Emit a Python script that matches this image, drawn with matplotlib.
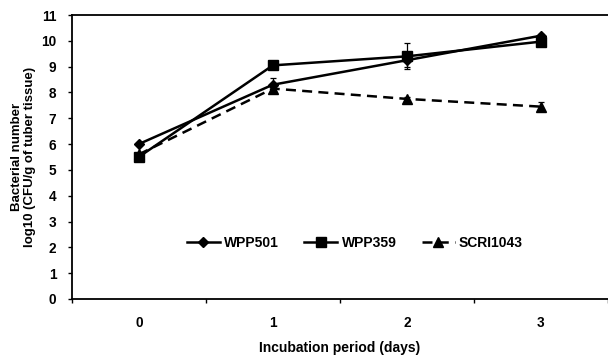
import matplotlib
matplotlib.use("Agg")
import matplotlib.pyplot as plt

plt.rcParams['font.family'] = ['Liberation Sans', 'DejaVu Sans']
plt.rcParams['font.weight'] = 'bold'

days = [0, 1, 2, 3]
wpp501 = [6.0, 8.3, 9.25, 10.2]
wpp501_err = [0.05, 0.25, 0.25, 0.08]
wpp359 = [5.5, 9.05, 9.4, 9.97]
wpp359_err = [0.05, 0.05, 0.5, 0.08]
scri1043 = [5.6, 8.15, 7.75, 7.45]
scri1043_err = [0.05, 0.1, 0.08, 0.18]

fig = plt.figure(figsize=(6.08, 3.58), dpi=100)
ax = fig.add_axes([0.118, 0.165, 0.882, 0.793])

# lines + markers
ax.plot(days, wpp501, color='black', lw=1.8, marker='D', ms=5, label='WPP501')
ax.plot(days, wpp359, color='black', lw=1.8, marker='s', ms=6.5, label='WPP359')
ax.plot(days, scri1043, color='black', lw=1.8, ls=(0, (4, 2.5)), marker='^', ms=7,
        label='SCRI1043')

# error bars
for vals, err in [(wpp501, wpp501_err), (wpp359, wpp359_err), (scri1043, scri1043_err)]:
    ax.errorbar(days, vals, yerr=err, fmt='none', ecolor='black', elinewidth=0.9,
                capsize=2.5, capthick=0.9)

ax.set_xlim(-0.5, 3.5)
ax.set_ylim(0, 11)
ax.set_yticks(range(0, 12))
ax.set_xticks(days)
ax.set_xticks([-0.5, 0.5, 1.5, 2.5, 3.5], minor=True)
ax.tick_params(axis='x', which='major', length=0, pad=12, labelsize=9.8)
ax.tick_params(axis='x', which='minor', length=3, width=1)
ax.tick_params(axis='y', length=3, width=1, labelsize=9.8, pad=8)
for lab in ax.get_xticklabels() + ax.get_yticklabels():
    lab.set_fontweight('bold')

ax.spines['right'].set_visible(False)
for s in ['left', 'bottom', 'top']:
    ax.spines[s].set_linewidth(1.3)

ax.set_ylabel('Bacterial number\nlog10 (CFU/g of tuber tissue)', fontsize=9.5,
              fontweight='bold', labelpad=4, linespacing=1.05)
ax.set_xlabel('Incubation period (days)', fontsize=10, fontweight='bold', labelpad=8)

leg = ax.legend(loc='center', bbox_to_anchor=(0.528, 0.197), ncol=3, frameon=False,
                fontsize=10, handlelength=2.4, columnspacing=1.8, handletextpad=0.3)
for t in leg.get_texts():
    t.set_fontweight('bold')

fig.savefig('out.png', dpi=100)
